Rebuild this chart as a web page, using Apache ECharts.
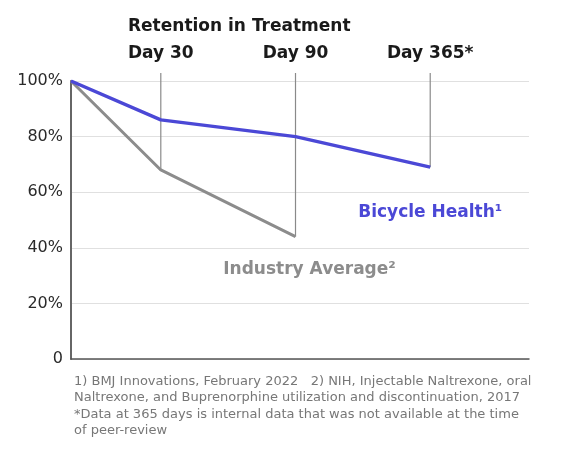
<!DOCTYPE html>
<html>
<head>
<meta charset="utf-8">
<script src="https://cdn.jsdelivr.net/npm/echarts@6/dist/echarts.min.js"></script>
<style>html,body{margin:0;padding:0;background:#fff}#c{width:561px;height:450px}</style>
</head>
<body>
<div id="c"></div>
<script>
// Data
var dayLabels = ['', 'Day 30', 'Day 90', 'Day 365*'];
var timelineSlot = [0, 2, 5, 8];           // ordinal slots along the (non-linear) timeline
var bicycleHealth = [100, 86, 80, 69];
var industryAverage = [100, 68, 44, null];
var yTicks = [0, 20, 40, 60, 80, 100];

var FONT = '"DejaVu Sans", sans-serif';
var BLUE = '#4b48d6';
var GREY = '#8c8c8c';

// the lowest-reaching point for each milestone drop line
var dropTo = timelineSlot.map(function (s, i) {
  var vals = [bicycleHealth[i], industryAverage[i]].filter(function (v) { return v != null; });
  return [s, Math.min.apply(null, vals), dayLabels[i]];
}).slice(1);

var chart = echarts.init(document.getElementById('c'));
chart.setOption({
  animation: false,
  grid: { left: 71, right: 32, top: 81, bottom: 91 },
  title: {
    text: 'Retention in Treatment',
    left: 123, top: 13,
    textStyle: { fontFamily: FONT, fontSize: 17, fontWeight: 'bold', color: '#1a1a1a' }
  },
  xAxis: {
    type: 'value', min: 0, max: 10.2,
    axisLine: { show: true, onZero: false, lineStyle: { color: '#555', width: 1.5 } },
    axisTick: { show: false }, axisLabel: { show: false }, splitLine: { show: false }
  },
  yAxis: {
    type: 'value', min: 0, max: 100, interval: 20,
    axisLine: { show: true, lineStyle: { color: '#666', width: 2 } },
    axisTick: { show: false },
    axisLabel: {
      fontFamily: FONT, fontSize: 16, color: '#2a2a2a', margin: 8,
      formatter: function (v) { return yTicks.indexOf(v) < 0 ? '' : (v === 0 ? '0' : v + '%'); }
    },
    splitLine: { lineStyle: { color: '#e0e0e0', width: 1 } }
  },
  series: [
    {
      type: 'custom',
      data: dropTo,
      clip: false,
      z: 1,
      renderItem: function (params, api) {
        var p = api.coord([api.value(0), api.value(1)]);
        var top = api.coord([api.value(0), 100]);
        var name = dropTo[params.dataIndex][2];
        return {
          type: 'group',
          children: [
            { type: 'line', shape: { x1: p[0], y1: p[1], x2: p[0], y2: top[1] - 8 },
              style: { stroke: '#8a8a8a', lineWidth: 1.2 } },
            { type: 'text', style: { text: name, x: p[0], y: top[1] - 27,
              textAlign: 'center', textVerticalAlign: 'middle',
              font: 'bold 17px ' + FONT, fill: '#1a1a1a' } }
          ]
        };
      }
    },
    {
      name: 'Industry Average',
      type: 'line', z: 3,
      data: timelineSlot.map(function (s, i) { return [s, industryAverage[i]]; }),
      symbol: 'none',
      lineStyle: { color: GREY, width: 3 },
      endLabel: {
        show: true, formatter: 'Industry Average²', color: GREY,
        fontFamily: FONT, fontSize: 17, fontWeight: 'bold',
        align: 'center', offset: [14, 33], distance: 0
      }
    },
    {
      name: 'Bicycle Health',
      type: 'line', z: 4,
      data: timelineSlot.map(function (s, i) { return [s, bicycleHealth[i]]; }),
      symbol: 'none',
      lineStyle: { color: BLUE, width: 3.4 },
      endLabel: {
        show: true, formatter: 'Bicycle Health¹', color: BLUE,
        fontFamily: FONT, fontSize: 17, fontWeight: 'bold',
        align: 'center', offset: [0, 45], distance: 0
      }
    }
  ],
  graphic: [{
    type: 'text', left: 74, top: 373,
    style: {
      text: '1) BMJ Innovations, February 2022   2) NIH, Injectable Naltrexone, oral\nNaltrexone, and Buprenorphine utilization and discontinuation, 2017\n*Data at 365 days is internal data that was not available at the time\nof peer-review',
      font: '13px ' + FONT, fill: '#777', lineHeight: 16.5
    }
  }]
});
</script>
</body>
</html>
